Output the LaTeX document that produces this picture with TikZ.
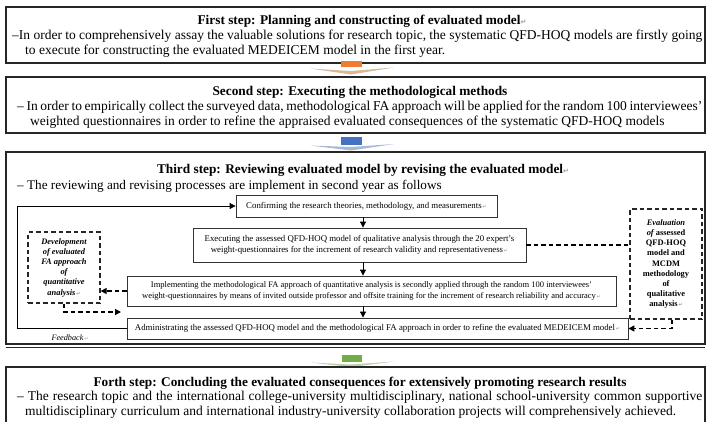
\documentclass[tikz,border=0pt]{standalone}
\usepackage{fontspec}
\setmainfont{Liberation Serif}
\newfontfamily\symfont{DejaVu Sans}
\usetikzlibrary{arrows.meta}
\definecolor{stemorange}{HTML}{ED7D31}
\definecolor{headorange}{HTML}{D8B89A}
\definecolor{stemblue}{HTML}{4472C4}
\definecolor{headblue}{HTML}{A9B8D6}
\definecolor{stemgreen}{HTML}{70AD47}
\definecolor{headgreen}{HTML}{B9CFAE}
\newcommand{\parmark}{{\symfont\fontsize{5}{5}\selectfont\color{black!40}\,↵}}
\newcommand{\titlemark}{{\symfont\fontsize{7}{7}\selectfont\color{black!40}↵}}
\begin{document}
\begin{tikzpicture}[x=1pt,y=-1pt,
  stepbox/.style={draw=black!85, line width=1.4pt},
  body/.style={font=\fontsize{13.5}{15}\selectfont, inner sep=0pt, anchor=base west},
  steptitle/.style={font=\fontsize{13.3}{15}\selectfont\bfseries, inner sep=0pt, anchor=base},
  inbox/.style={draw=black!80, line width=0.8pt, font=\fontsize{8.8}{11.5}\selectfont, align=center, inner sep=0pt},
  dbox/.style={draw=black!85, line width=1.3pt, dash pattern=on 4.5pt off 3pt, font=\fontsize{8.4}{10.2}\selectfont\bfseries, align=center, inner sep=0pt},
  flow/.style={line width=0.8pt, -{Triangle[length=6pt,width=6pt]}},
  dflow/.style={line width=1.3pt, dash pattern=on 4.5pt off 3pt, -{Triangle[length=6pt,width=6pt]}},
  dlink/.style={line width=1.3pt, dash pattern=on 4.5pt off 3pt},
]
\clip (0,0) rectangle (706,421);
\fill[white] (0,0) rectangle (706,421);

% ---------- step 1 ----------
\draw[stepbox] (6,7) rectangle (705,63);
\node[steptitle] (t1) at (362,24) {First step: Planning and constructing of evaluated model\titlemark};
\node[body] (l1a) at (12,39) {\hbox to 690pt{–In order to comprehensively assay the valuable solutions for research topic, the systematic QFD-HOQ models are firstly going}};
\node[body] (l1b) at (25,54) {to execute for constructing the evaluated MEDEICEM model in the first year.};

% arrow 1 -> 2
\fill[stemorange] (341,61) rectangle (362,67);
\fill[headorange] (310,68.5) -- (351,74.5) -- (394,67.5) -- (351,71) -- cycle;

% ---------- step 2 ----------
\draw[stepbox] (6,77) rectangle (705,133);
\node[steptitle] (t2) at (360,95) {Second step: Executing the methodological methods};
\node[body] (l2a) at (17,110) {\hbox to 685pt{– In order to empirically collect the surveyed data, methodological FA approach will be applied for the random 100 interviewees’}};
\node[body] (l2b) at (30,125) {weighted questionnaires in order to refine the appraised evaluated consequences of the systematic QFD-HOQ models};

% arrow 2 -> 3
\fill[stemblue] (341,137) rectangle (362,145);
\fill[headblue] (310,145.5) -- (351,150.5) -- (394,144) -- (351,147) -- cycle;

% ---------- step 3 ----------
\draw[stepbox] (6,152) rectangle (705,344);
\draw[black!85, line width=0.8pt] (6,347) -- (705,347);
\node[steptitle] (t3) at (363,173) {Third step: Reviewing evaluated model by revising the evaluated model\titlemark};
\node[body, font=\fontsize{13.2}{15}\selectfont] (l3a) at (17,189) {– The reviewing and revising processes are implement in second year as follows};

\node[inbox, minimum width=261pt, minimum height=22pt] (A) at (366.5,206)
  {Confirming the research theories, methodology, and measurements\parmark};
\node[inbox, minimum width=333pt, minimum height=34pt] (B) at (359.5,245)
  {Executing the assessed QFD-HOQ model of qualitative analysis through the 20 expert’s\\
   weight-questionnaires for the increment of research validity and representativeness\parmark};
\node[inbox, minimum width=489pt, minimum height=30pt, font=\fontsize{8.5}{11.5}\selectfont] (C) at (371.5,291)
  {Implementing the methodological FA approach of quantitative analysis is secondly applied through the random 100 interviewees’\\
   weight-questionnaires by means of invited outside professor and offsite training for the increment of research reliability and accuracy\parmark};
\node[inbox, minimum width=501pt, minimum height=21pt] (D) at (377.5,328.5)
  {Administrating the assessed QFD-HOQ model and the methodological FA approach in order to refine the evaluated MEDEICEM model\parmark};

\node[dbox, minimum width=72pt, minimum height=71pt] (L) at (64,267.5)
  {\itshape Development\\\itshape of evaluated\\\itshape FA approach\\\itshape of\\\itshape quantitative\\\itshape analysis\parmark};
\node[dbox, minimum width=72pt, minimum height=110pt] (R) at (666,264)
  {\itshape Evaluation\\{\itshape of} assessed\\QFD-HOQ\\model and\\MCDM\\methodology\\of\\qualitative\\analysis\parmark};

\node[font=\fontsize{8.2}{10}\selectfont\itshape, inner sep=0pt] (fbl) at (70,338) {Feedback\parmark};

% solid flow
\coordinate (ax) at (363,0);
\coordinate (fb) at (17,0);
\draw[flow] (A.south -| ax) -- (B.north -| ax);
\draw[flow] (B.south -| ax) -- (C.north -| ax);
\draw[flow] (C.south -| ax) -- (D.north -| ax);
\draw[flow] (D.west) -- (D.west -| fb) -- (A.west -| fb) -- (A.west);

% dashed links
\coordinate (lt) at (121,312);
\coordinate (rx) at (672,0);
\draw[dflow] (C.west) -- (L.east |- C.west);
\draw[dflow] (L.south) |- (lt);
\draw[dlink] (B.east) -- (R.west |- B.east);
\draw[dflow] (R.south -| rx) |- (D.east);

% arrow 3 -> 4
\fill[stemgreen] (342,355) rectangle (362,362);
\fill[headgreen] (310,362.5) -- (351,367) -- (394,361.5) -- (351,364.5) -- cycle;

% ---------- step 4 ----------
\draw[stepbox] (6,367) rectangle (705,440);
\node[steptitle] (t4) at (360,386) {Forth step: Concluding the evaluated consequences for extensively promoting research results};
\node[body] (l4a) at (17,400) {\hbox to 685pt{– The research topic and the international college-university multidisciplinary, national school-university common supportive}};
\node[body] (l4b) at (25,415) {multidisciplinary curriculum and international industry-university collaboration projects will comprehensively achieved.};
\end{tikzpicture}
\end{document}
